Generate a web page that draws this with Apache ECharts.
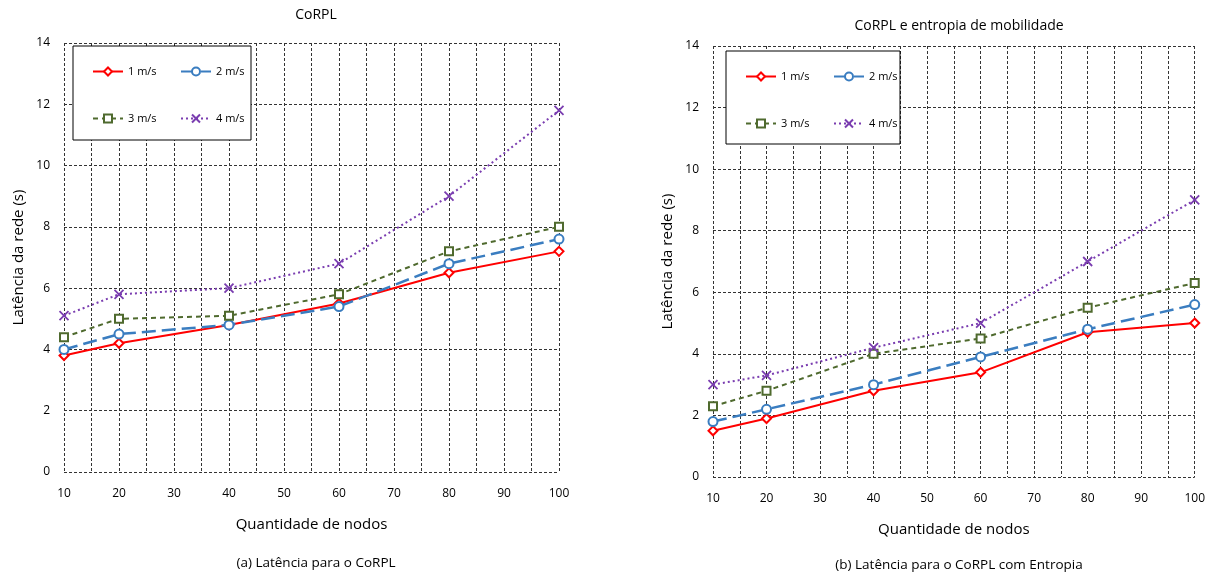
<!DOCTYPE html>
<html><head><meta charset="utf-8">
<script src="https://cdn.jsdelivr.net/npm/echarts@6/dist/echarts.min.js"></script>
<style>html,body{margin:0;padding:0;background:#fff}#c{width:1208px;height:572px}</style>
</head><body><div id="c"></div>
<script>
const nodes = [10, 20, 40, 60, 80, 100];
const seriesNames = ['1 m/s', '2 m/s', '3 m/s', '4 m/s'];
// Panel (a): CoRPL
const a_1ms = [3.8, 4.2, 4.8, 5.5, 6.5, 7.2];
const a_2ms = [4.0, 4.5, 4.8, 5.4, 6.8, 7.6];
const a_3ms = [4.4, 5.0, 5.1, 5.8, 7.2, 8.0];
const a_4ms = [5.1, 5.8, 6.0, 6.8, 9.0, 11.8];
// Panel (b): CoRPL e entropia de mobilidade
const b_1ms = [1.5, 1.9, 2.8, 3.4, 4.7, 5.0];
const b_2ms = [1.8, 2.2, 3.0, 3.9, 4.8, 5.6];
const b_3ms = [2.3, 2.8, 4.0, 4.5, 5.5, 6.3];
const b_4ms = [3.0, 3.3, 4.2, 5.0, 7.0, 9.0];
const titles = ['CoRPL', 'CoRPL e entropia de mobilidade'];
const captions = ['(a) Latência para o CoRPL', '(b) Latência para o CoRPL com Entropia'];
const yName = 'Latência da rede (s)';
const xName = 'Quantidade de nodos';

const FONT = 'Open Sans';
const styles = [
  {color: '#FF0000', symbol: 'emptyDiamond', size: 9, line: {type: 'solid', width: 2}},
  {color: '#3A7DC0', symbol: 'emptyCircle', size: 9, line: {type: [14, 6], width: 2.5}},
  {color: '#4F6A2E', symbol: 'emptyRect', size: 8, line: {type: [5, 4], width: 2}},
  {color: '#7A3DB0', symbol: 'path://M0,0L10,10M10,0L0,10', size: 9, line: {type: [2, 3], width: 2}}
];
const panels = [[a_1ms, a_2ms, a_3ms, a_4ms], [b_1ms, b_2ms, b_3ms, b_4ms]];

const grids = [
  {left: 64, right: 649, top: 43, bottom: 100},
  {left: 713, right: 13, top: 46, bottom: 95}
];
const gridLine = {show: true, lineStyle: {color: '#333', type: [3, 2], width: 1}};

const xAxes = grids.map((g, i) => ({
  type: 'value', gridIndex: i, min: 10, max: 100, interval: 5,
  axisLine: {show: false}, axisTick: {show: false}, splitLine: gridLine,
  axisLabel: {fontFamily: FONT, fontSize: 12, color: '#000', margin: 16,
    formatter: v => (v % 10 === 0 ? String(v) : '')},
  name: xName, nameLocation: 'middle', nameGap: 45,
  nameTextStyle: {fontFamily: FONT, fontSize: 15, color: '#000'}
}));
const yAxes = grids.map((g, i) => ({
  type: 'value', gridIndex: i, min: 0, max: 14, interval: 2,
  axisLine: {show: false}, axisTick: {show: false}, splitLine: gridLine,
  axisLabel: {fontFamily: FONT, fontSize: 12, color: '#000', margin: 14},
  name: yName, nameLocation: 'middle', nameGap: 38,
  nameTextStyle: {fontFamily: FONT, fontSize: 15, color: '#000'}
}));

const series = [];
panels.forEach((vals, p) => {
  vals.forEach((arr, k) => {
    const s = styles[k];
    series.push({
      name: seriesNames[k], type: 'line', xAxisIndex: p, yAxisIndex: p,
      data: nodes.map((n, j) => [n, arr[j]]),
      symbol: s.symbol, symbolSize: s.size, showAllSymbol: true,
      lineStyle: {color: s.color, type: s.line.type, width: s.line.width},
      itemStyle: {color: s.color, borderColor: s.color, borderWidth: 1.8},
      animation: false, z: 3 + k
    });
  });
});

// legend boxes
const legendBoxes = [{x: 73, y: 46, w: 178, h: 94}, {x: 726, y: 51, w: 174, h: 93}];
const legends = [];
legendBoxes.forEach((b) => {
  seriesNames.forEach((n, k) => {
    const col = k % 2, row = Math.floor(k / 2);
    legends.push({
      data: [n], left: b.x + 14 + col * 88, top: b.y + 15 + row * 47,
      itemWidth: 30, itemHeight: 10, itemGap: 4, z: 200,
      textStyle: {fontFamily: FONT, fontSize: 11, color: '#000'},
      selectedMode: false
    });
  });
});

const graphic = legendBoxes.map(b => ({
  type: 'rect', shape: {x: b.x, y: b.y, width: b.w, height: b.h},
  style: {fill: '#fff', stroke: '#000', lineWidth: 1}, z: 50
}));

const option = {
  backgroundColor: '#fff',
  animation: false,
  title: [
    {text: titles[0], left: 311, top: 3, textAlign: 'center', textStyle: {fontFamily: FONT, fontSize: 14, fontWeight: 'normal', color: '#000'}},
    {text: titles[1], left: 954, top: 14, textAlign: 'center', textStyle: {fontFamily: FONT, fontSize: 14, fontWeight: 'normal', color: '#000'}},
    {text: captions[0], left: 311, top: 551, textAlign: 'center', textStyle: {fontFamily: FONT, fontSize: 13.5, fontWeight: 'normal', color: '#000'}},
    {text: captions[1], left: 954, top: 553, textAlign: 'center', textStyle: {fontFamily: FONT, fontSize: 13.5, fontWeight: 'normal', color: '#000'}}
  ],
  grid: grids,
  xAxis: xAxes,
  yAxis: yAxes,
  legend: legends,
  graphic: graphic,
  series: series
};
const chart = echarts.init(document.getElementById('c'), null, {renderer: 'canvas'});
chart.setOption(option);
</script></body></html>
